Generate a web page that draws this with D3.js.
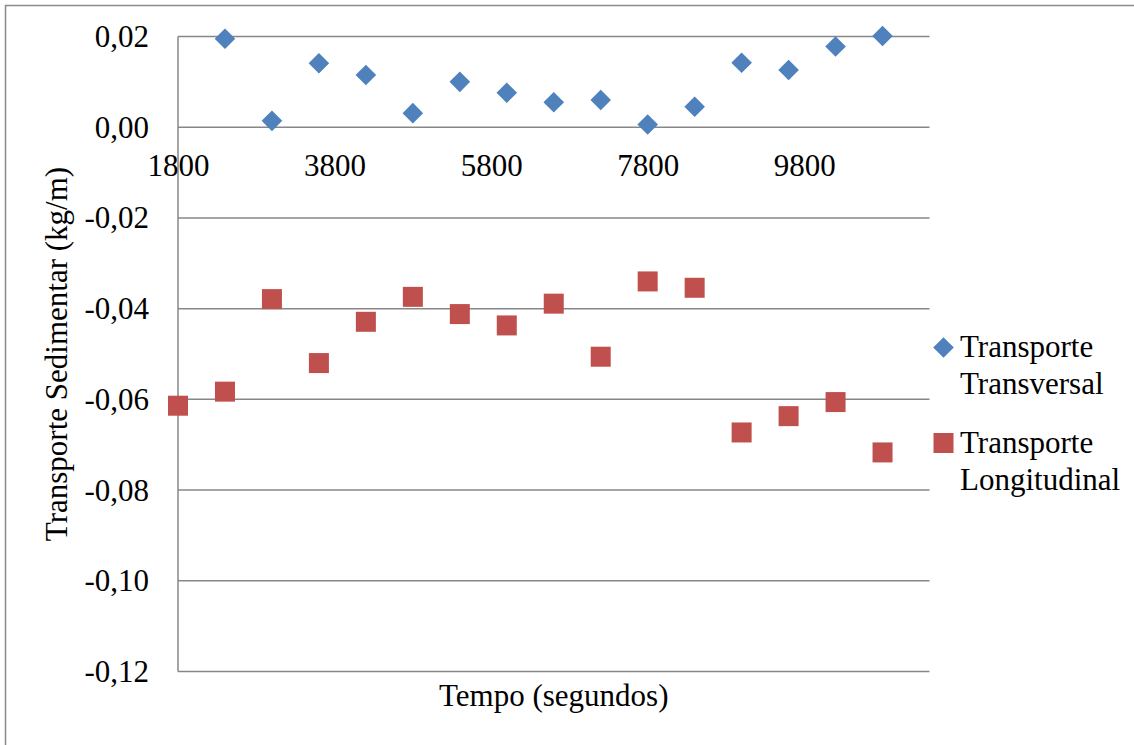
<!DOCTYPE html>
<html>
<head>
<meta charset="utf-8">
<script src="https://cdn.jsdelivr.net/npm/d3@7"></script>
<style>
  html, body { margin: 0; padding: 0; background: #fff; }
  svg { display: block; }
  text { fill: #000; }
</style>
</head>
<body>
<svg id="chart" width="1134" height="745"></svg>
<script>
// Time in seconds for each sample
const tempo = [1800, 2400, 3000, 3600, 4200, 4800, 5400, 6000, 6600, 7200, 7800, 8400, 9000, 9600, 10200, 10800];

// Cross-shore transport (no sample at 1800 s)
const tempoTransversal = [2400, 3000, 3600, 4200, 4800, 5400, 6000, 6600, 7200, 7800, 8400, 9000, 9600, 10200, 10800];
const transversal = [0.0195, 0.0014, 0.0141, 0.0115, 0.0031, 0.0100, 0.0076, 0.0055, 0.0060, 0.0006, 0.0045, 0.0142, 0.0126, 0.0178, 0.0201];

// Longshore transport
const longitudinal = [-0.0614, -0.0583, -0.0379, -0.0520, -0.0429, -0.0374, -0.0412, -0.0437, -0.0389, -0.0506, -0.0340, -0.0354, -0.0673, -0.0637, -0.0606, -0.0717];

const xTicks = [1800, 3800, 5800, 7800, 9800];
const yTicks = [0.02, 0.00, -0.02, -0.04, -0.06, -0.08, -0.10, -0.12];

const colors = ["#4F81BD", "#C0504D"];

// Pick the first installed Times-like serif face
function fontInstalled(name) {
  const ctx = document.createElement("canvas").getContext("2d");
  const sample = "Tempo (segundos) 0,02 WiIlmM";
  return ["monospace", "sans-serif"].some(base => {
    ctx.font = `40px ${base}`;
    const w0 = ctx.measureText(sample).width;
    ctx.font = `40px "${name}", ${base}`;
    return ctx.measureText(sample).width !== w0;
  });
}
const serifCandidates = ["Liberation Serif", "Times New Roman", "Tinos", "Nimbus Roman", "Nimbus Roman No9 L", "FreeSerif", "DejaVu Serif", "Noto Serif", "Times"];
const serifFace = serifCandidates.find(fontInstalled);
const fontFamily = (serifFace ? `"${serifFace}", ` : "") + '"Liberation Serif", "Times New Roman", serif';

const svg = d3.select("#chart");
const fontSize = 31;
const gridColor = "#878787";

// Chart frame
svg.append("rect")
  .attr("x", 5.5).attr("y", 5.5)
  .attr("width", 1160).attr("height", 760)
  .attr("fill", "#fff")
  .attr("stroke", "#8a8a8a").attr("stroke-width", 1.5);

const plot = { left: 178, right: 929.5, top: 36.5, bottom: 671.5 };

const x = d3.scaleLinear().domain([1800, 11400]).range([plot.left, plot.right]);
const y = d3.scaleLinear().domain([-0.12, 0.02]).range([plot.bottom, plot.top]);

const fmt = v => d3.format(".2f")(v).replace(".", ",").replace("−", "-");

// Y labels via a left axis
const yAxis = d3.axisLeft(y).tickValues(yTicks).tickSize(0).tickFormat(fmt);
const gy = svg.append("g").attr("transform", `translate(${plot.left},0)`).call(yAxis);
gy.select(".domain").remove();
gy.selectAll("text")
  .attr("x", -29)
  .attr("dy", null)
  .attr("y", 10)
  .attr("text-anchor", "end")
  .style("font-family", fontFamily)
  .style("font-size", fontSize + "px");

// Horizontal gridlines
svg.append("g").selectAll("line").data(yTicks).join("line")
  .attr("x1", plot.left).attr("x2", plot.right)
  .attr("y1", d => y(d)).attr("y2", d => y(d))
  .attr("stroke", gridColor).attr("stroke-width", 1.5);

// Vertical axis line
svg.append("line")
  .attr("x1", plot.left).attr("x2", plot.left)
  .attr("y1", plot.top).attr("y2", plot.bottom)
  .attr("stroke", gridColor).attr("stroke-width", 1.5);

// Horizontal axis crosses at zero
const xAxis = d3.axisBottom(x).tickValues(xTicks).tickSize(0).tickFormat(d3.format("d"));
const gx = svg.append("g").attr("transform", `translate(0,${y(0)})`).call(xAxis);
gx.select(".domain").remove();
gx.selectAll("text")
  .attr("dy", null)
  .attr("y", 49)
  .style("font-family", fontFamily)
  .style("font-size", fontSize + "px");

// Axis titles
svg.append("text")
  .attr("x", (plot.left + plot.right) / 2).attr("y", 706)
  .attr("text-anchor", "middle")
  .style("font-family", fontFamily)
  .style("font-size", fontSize + "px")
  .text("Tempo (segundos)");

svg.append("text")
  .attr("transform", `translate(66.5,${(plot.top + plot.bottom) / 2}) rotate(-90)`)
  .attr("text-anchor", "middle")
  .style("font-family", fontFamily)
  .style("font-size", fontSize + "px")
  .text("Transporte Sedimentar (kg/m)");

// Markers
const half = 10.3;
const diamond = (cx, cy) => `M${cx},${cy - half}L${cx + half},${cy}L${cx},${cy + half}L${cx - half},${cy}Z`;

svg.append("g").selectAll("path").data(tempoTransversal.map((t, i) => [t, transversal[i]])).join("path")
  .attr("d", d => diamond(x(d[0]), y(d[1])))
  .attr("fill", colors[0]);

svg.append("g").selectAll("rect").data(tempo.map((t, i) => [t, longitudinal[i]])).join("rect")
  .attr("x", d => x(d[0]) - 10).attr("y", d => y(d[1]) - 10)
  .attr("width", 20).attr("height", 20)
  .attr("fill", colors[1]);

// Legend
const legend = svg.append("g");
legend.append("path").attr("d", diamond(943.5, 347.5)).attr("fill", colors[0]);
legend.append("rect").attr("x", 933.5).attr("y", 433).attr("width", 20).attr("height", 20).attr("fill", colors[1]);

const legendItems = [
  { lines: ["Transporte", "Transversal"], y: 357 },
  { lines: ["Transporte", "Longitudinal"], y: 453 }
];
legendItems.forEach(item => {
  const t = legend.append("text").attr("x", 960).attr("y", item.y)
    .style("font-family", fontFamily)
    .style("font-size", fontSize + "px");
  item.lines.forEach((ln, j) => {
    t.append("tspan").attr("x", 960).attr("y", item.y + j * 37).text(ln);
  });
});
</script>
</body>
</html>
